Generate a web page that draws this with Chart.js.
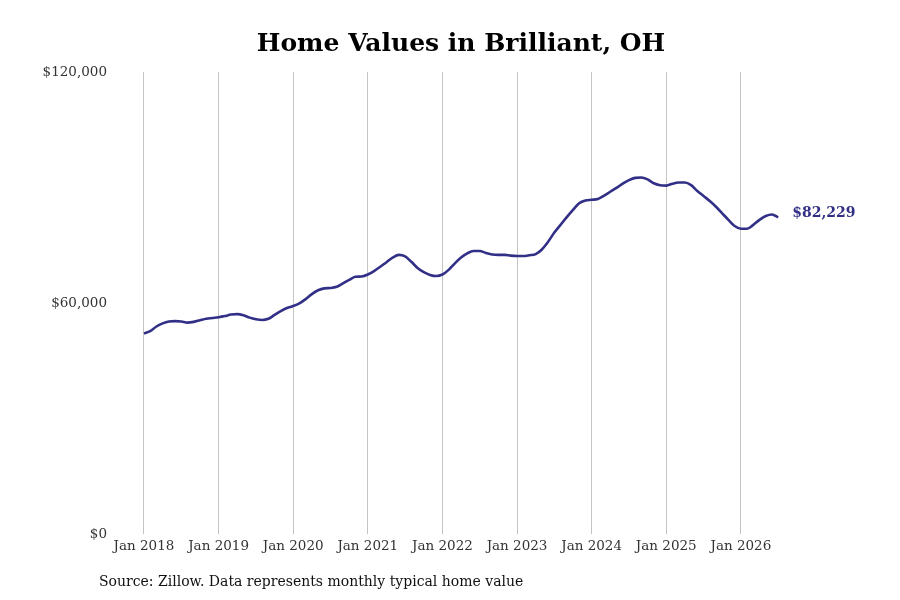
<!DOCTYPE html>
<html>
<head>
<meta charset="utf-8">
<script src="https://cdn.jsdelivr.net/npm/chart.js@4.4.1/dist/chart.umd.min.js"></script>
<style>
  html, body { margin: 0; padding: 0; background: #ffffff; }
  #wrap { width: 900px; height: 600px; position: relative; }
</style>
</head>
<body>
<div id="wrap"><canvas id="c" width="900" height="600"></canvas></div>
<script>
// ---- Data (monthly typical home value, Jan 2018 .. Jul 2026) ----
const startYear = 2018;
const values2018 = [52100, 52700, 53900, 54700, 55200, 55300, 55200, 54900, 55100, 55500, 55900, 56100];
const values2019 = [56300, 56600, 57000, 57100, 56800, 56200, 55800, 55600, 55900, 56900, 57900, 58700];
const values2020 = [59200, 59900, 61000, 62300, 63300, 63800, 63900, 64200, 65100, 66000, 66800, 66900];
const values2021 = [67400, 68300, 69400, 70600, 71800, 72500, 72100, 70700, 69100, 68000, 67300, 67000];
const values2022 = [67400, 68600, 70300, 71800, 72900, 73500, 73500, 73000, 72600, 72500, 72500, 72300];
const values2023 = [72200, 72200, 72400, 72700, 73900, 75900, 78300, 80300, 82300, 84200, 85900, 86600];
const values2024 = [86800, 87000, 87900, 88900, 89900, 91000, 91900, 92500, 92600, 92100, 91100, 90600];
const values2025 = [90500, 91000, 91300, 91300, 90600, 89100, 87800, 86500, 85000, 83300, 81600, 80000];
const values2026 = [79300, 79300, 80300, 81600, 82600, 83000, 82229];

const tickLabels = ["Jan 2018", "Jan 2019", "Jan 2020", "Jan 2021", "Jan 2022", "Jan 2023", "Jan 2024", "Jan 2025", "Jan 2026"];
const yTickValues = [0, 60000, 120000];

const titleText = "Home Values in Brilliant, OH";
const sourceText = "Source: Zillow. Data represents monthly typical home value";

const lineColor = "#322f87";

const values = [].concat(values2018, values2019, values2020, values2021, values2022,
                         values2023, values2024, values2025, values2026);
const points = values.map((v, i) => ({ x: i, y: v }));
const monthNames = ["Jan","Feb","Mar","Apr","May","Jun","Jul","Aug","Sep","Oct","Nov","Dec"];
const categories = values.map((v, i) => monthNames[i % 12] + " " + (startYear + Math.floor(i / 12)));

const fmt = v => "$" + Math.round(v).toLocaleString("en-US");

const extrasPlugin = {
  id: "extras",
  afterDatasetsDraw(chart) {
    const ctx = chart.ctx;
    const meta = chart.getDatasetMeta(0);
    const last = meta.data[meta.data.length - 1];
    ctx.save();
    ctx.font = "bold 14px 'DejaVu Serif'";
    ctx.fillStyle = lineColor;
    ctx.textBaseline = "middle";
    ctx.textAlign = "left";
    ctx.fillText(fmt(values[values.length - 1]), last.x + 14, last.y - 4);
    ctx.restore();
  },
  afterDraw(chart) {
    const ctx = chart.ctx;
    ctx.save();
    ctx.fillStyle = "#000000";
    ctx.textBaseline = "middle";
    ctx.textAlign = "center";
    ctx.font = "bold 25px 'DejaVu Serif'";
    ctx.fillText(titleText, 461, 44);
    ctx.font = "14px 'DejaVu Serif'";
    ctx.fillStyle = "#111111";
    ctx.textAlign = "left";
    ctx.fillText(sourceText, 99, 582);
    ctx.restore();
  }
};

new Chart(document.getElementById("c"), {
  type: "line",
  data: {
    labels: categories,
    datasets: [{
      label: "Home value",
      data: points,
      borderColor: lineColor,
      borderWidth: 2.6,
      pointRadius: 0,
      pointHoverRadius: 0,
      tension: 0.4,
      cubicInterpolationMode: "monotone",
      fill: false
    }]
  },
  options: {
    responsive: false,
    animation: false,
    devicePixelRatio: 1,
    layout: { padding: { left: 0, right: 41, top: 72, bottom: 0 } },
    plugins: {
      legend: { display: false },
      tooltip: { enabled: false },
      title: { display: false }
    },
    scales: {
      x: {
        type: "linear",
        min: -4.66,
        max: 115,
        afterFit(scale) { scale.height = 66; },
        afterBuildTicks(scale) {
          scale.ticks = tickLabels.map((t, k) => ({ value: k * 12 }));
        },
        ticks: {
          autoSkip: false,
          maxRotation: 0,
          padding: 4,
          color: "#333333",
          font: { family: "'DejaVu Serif'", size: 13.5 },
          callback: (value) => tickLabels[Math.round(value / 12)]
        },
        grid: {
          display: true,
          color: "#c4c4c4",
          lineWidth: 1,
          drawTicks: false
        },
        border: { display: false }
      },
      y: {
        min: 0,
        max: 120000,
        afterFit(scale) { scale.width = 115; },
        afterBuildTicks(scale) {
          scale.ticks = yTickValues.map(v => ({ value: v }));
        },
        ticks: {
          padding: 8,
          color: "#333333",
          font: { family: "'DejaVu Serif'", size: 13.5 },
          callback: (value) => fmt(value)
        },
        grid: { display: false, drawTicks: false },
        border: { display: false }
      }
    }
  },
  plugins: [extrasPlugin]
});
</script>
</body>
</html>
